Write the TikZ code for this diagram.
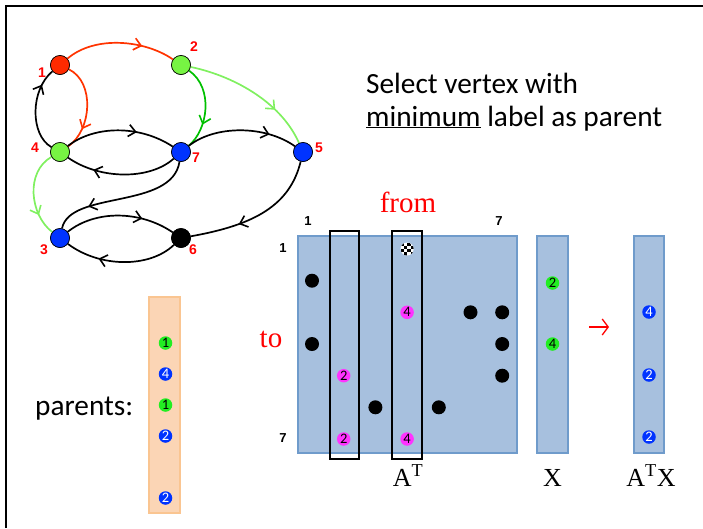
\documentclass[tikz,border=0pt]{standalone}
\usepackage{fontspec}
\setmainfont{Carlito}
\newfontfamily\seriffont{Liberation Serif}
\newfontfamily\labelfont{Liberation Sans}
\usetikzlibrary{arrows.meta,decorations.markings}

\definecolor{vred}{HTML}{FF2A00}
\definecolor{vgreen}{HTML}{77F443}
\definecolor{vblue}{HTML}{0033FF}
\definecolor{ered}{HTML}{FF3300}
\definecolor{egreen}{HTML}{00C000}
\definecolor{elgreen}{HTML}{80F060}
\definecolor{mfill}{HTML}{A7C0DE}
\definecolor{mdraw}{HTML}{6F9BCB}
\definecolor{pfill}{HTML}{FBD5B5}
\definecolor{pdraw}{HTML}{FAC591}
\definecolor{cmag}{HTML}{FF33FF}
\definecolor{cgreen}{HTML}{22EE22}

\tikzset{
  vtx/.style={circle, draw=black, line width=0.6pt, minimum size=19pt, inner sep=0pt},
  vlabel/.style={text=red, font=\labelfont\bfseries\fontsize{14}{14}\selectfont, inner sep=0pt},
  idx/.style={font=\labelfont\bfseries\fontsize{13}{13}\selectfont, inner sep=0pt},
  link/.style={line width=1.7pt, postaction={decorate},
    decoration={markings, mark=at position #1 with {\arrow{Straight Barb[length=7pt,width=12pt,line width=1.6pt]}}}},
  link/.default=0.7,
  dot/.style={circle, fill=black, minimum size=14pt, inner sep=0pt},
  num/.style={circle, minimum size=13.5pt, inner sep=0pt, font=\fontsize{14.5}{14.5}\selectfont},
  magnum/.style={num, fill=cmag, text=black},
  grnum/.style={num, fill=cgreen, text=black},
  blnum/.style={num, fill=vblue, text=white},
  bigtext/.style={font=\fontsize{29.3}{29.3}\selectfont, inner sep=0pt},
  sertext/.style={font=\seriffont\fontsize{29}{29}\selectfont, inner sep=0pt},
  vecbox/.style={fill=mfill, draw=mdraw, line width=2pt},
  colbox/.style={draw=black, line width=1.5pt},
}

\begin{document}
\begin{tikzpicture}[x=1pt, y=-1pt]
\useasboundingbox (0,0) rectangle (703,528);

% slide frame (top and left edges)
\draw[line width=2pt] (6,528) -- (6,6) -- (703,6);

% ---- graph ----
\node[vtx, fill=vred]   (v1) at (60,65)  {};
\node[vtx, fill=vgreen] (v2) at (181,65) {};
\node[vtx, fill=vgreen] (v4) at (60,152) {};
\node[vtx, fill=vblue]  (v7) at (181,152) {};
\node[vtx, fill=vblue]  (v5) at (303,152) {};
\node[vtx, fill=vblue]  (v3) at (60,238) {};
\node[vtx, fill=black]  (v6) at (181,238) {};

\draw[link, ered]    (v1) .. controls (95,35) and (145,40) .. (v2);
\draw[link=0.75, ered]    (v1) .. controls (95,82) and (92,130) .. (v4);
\draw[link=0.8, black]   (v4) .. controls (30,135) and (30,90) .. (v1);
\draw[link, egreen]  (v2) .. controls (214,88) and (208,130) .. (v7);
\draw[link, elgreen] (v2) .. controls (230,75) and (280,100) .. (v5);
\draw[link=0.65, black]   (v4) .. controls (95,125) and (140,125) .. (v7);
\draw[link=0.75, black]   (v7) .. controls (150,180) and (100,180) .. (v4);
\draw[link=0.75, black]   (v7) .. controls (215,125) and (265,125) .. (v5);
\draw[link=0.75, elgreen] (v4) .. controls (25,172) and (30,215) .. (v3);
\draw[link=0.75, black]   (v7) .. controls (172,210) and (70,190) .. (v3);
\draw[link=0.7, black]   (v3) .. controls (95,210) and (140,210) .. (v6);
\draw[link=0.7, black]   (v6) .. controls (150,268) and (100,268) .. (v3);
\draw[link=0.65, black]   (v5) .. controls (290,205) and (255,225) .. (v6);

% redraw vertices over the edge ends
\foreach \n/\c in {v1/vred, v2/vgreen, v4/vgreen, v7/vblue, v5/vblue, v3/vblue, v6/black}
  \fill[\c, draw=black, line width=0.6pt] (\n.center) circle (9.5);

\node[vlabel] (l1) at (42,73)  {1};
\node[vlabel] (l2) at (194,47) {2};
\node[vlabel] (l4) at (35,148) {4};
\node[vlabel] (l7) at (196,158) {7};
\node[vlabel] (l5) at (319,148) {5};
\node[vlabel] (l3) at (44,250) {3};
\node[vlabel] (l6) at (193,250) {6};

% ---- caption ----
\node[bigtext, anchor=base west] (cap1) at (366,93) {Select vertex with};
\node[bigtext, anchor=base west] (cap2) at (366,126) {\underline{minimum} label as parent};

% ---- matrix A^T ----
\fill[vecbox] (298,236) rectangle (517,453);
\node[idx] (c1) at (308,221) {1};
\node[idx] (c7) at (499,221) {7};
\node[idx] (r1) at (283,248) {1};
\node[idx] (r7) at (283,438) {7};

% entries: x = 312 + 31.7(j-1), y = 249 + 31.67(i-1)
\node[dot] (a21) at (312,280.7) {};
\node[dot] (a36) at (470.5,312.3) {};
\node[dot] (a37) at (502.2,312.3) {};
\node[dot] (a41) at (312,344) {};
\node[dot] (a47) at (502.2,344) {};
\node[dot] (a57) at (502.2,375.7) {};
\node[dot] (a63) at (375.4,407.3) {};
\node[dot] (a65) at (438.8,407.3) {};
\node[magnum] (a34) at (407.1,312.3) {4};
\node[magnum] (a52) at (343.7,375.7) {2};
\node[magnum] (a72) at (343.7,439) {2};
\node[magnum] (a74) at (407.1,439) {4};

% checkered entry
\begin{scope}
  \clip (407.1,249) circle (6.5);
  \fill[white] (400,242) rectangle (414,256);
  \foreach \i in {0,...,3}
    \foreach \j in {0,...,3}{
      \ifodd\numexpr\i+\j\relax\else
        \fill[black] (400.6+3.3*\i,242.5+3.3*\j) rectangle ++(3.3,3.3);
      \fi
    }
\end{scope}
\node[circle, minimum size=13pt, inner sep=0pt] (a14) at (407.1,249) {};

% selected columns
\draw[colbox] (330,231) rectangle (359,459);
\draw[colbox] (392,231) rectangle (422,459);

\node[sertext, text=red, anchor=base] (from) at (408,212) {from};
\node[sertext, text=red, anchor=base] (to) at (271,347) {to};
\node[sertext, font=\seriffont\fontsize{26}{26}\selectfont, anchor=base] (at) at (408,486) {A\textsuperscript{T}};

% ---- vector X ----
\fill[vecbox] (537,236) rectangle (568,453);
\node[grnum] (x2) at (552.5,283) {2};
\node[grnum] (x4) at (552.5,344) {4};
\node[sertext, font=\seriffont\fontsize{26}{26}\selectfont, anchor=base] (xl) at (552.5,486) {X};

% arrow between the vectors
\coordinate (arrS) at (589,327);
\coordinate (arrE) at (609,327);
\draw[red, line width=1.3pt, -{Straight Barb[length=6pt,width=16pt,line width=1.3pt]}] (arrS) -- (arrE);

% ---- vector A^T X ----
\fill[vecbox] (634,236) rectangle (664,453);
\node[blnum] (y3) at (649,312) {4};
\node[blnum] (y5) at (649,375) {2};
\node[blnum] (y7) at (649,437) {2};
\node[sertext, font=\seriffont\fontsize{26}{26}\selectfont, anchor=base] (yl) at (651,486) {A\textsuperscript{T}X};

% ---- parents ----
\node[bigtext, anchor=base west] (plab) at (35,415) {parents:};
\fill[fill=pfill, draw=pdraw, line width=2pt] (149,297) rectangle (180,513);
\node[grnum] (p2) at (165.5,343) {1};
\node[blnum] (p3) at (165.5,374) {4};
\node[grnum] (p4) at (165.5,405) {1};
\node[blnum] (p5) at (165.5,436) {2};
\node[blnum] (p7) at (165.5,498) {2};
\end{tikzpicture}
\end{document}
